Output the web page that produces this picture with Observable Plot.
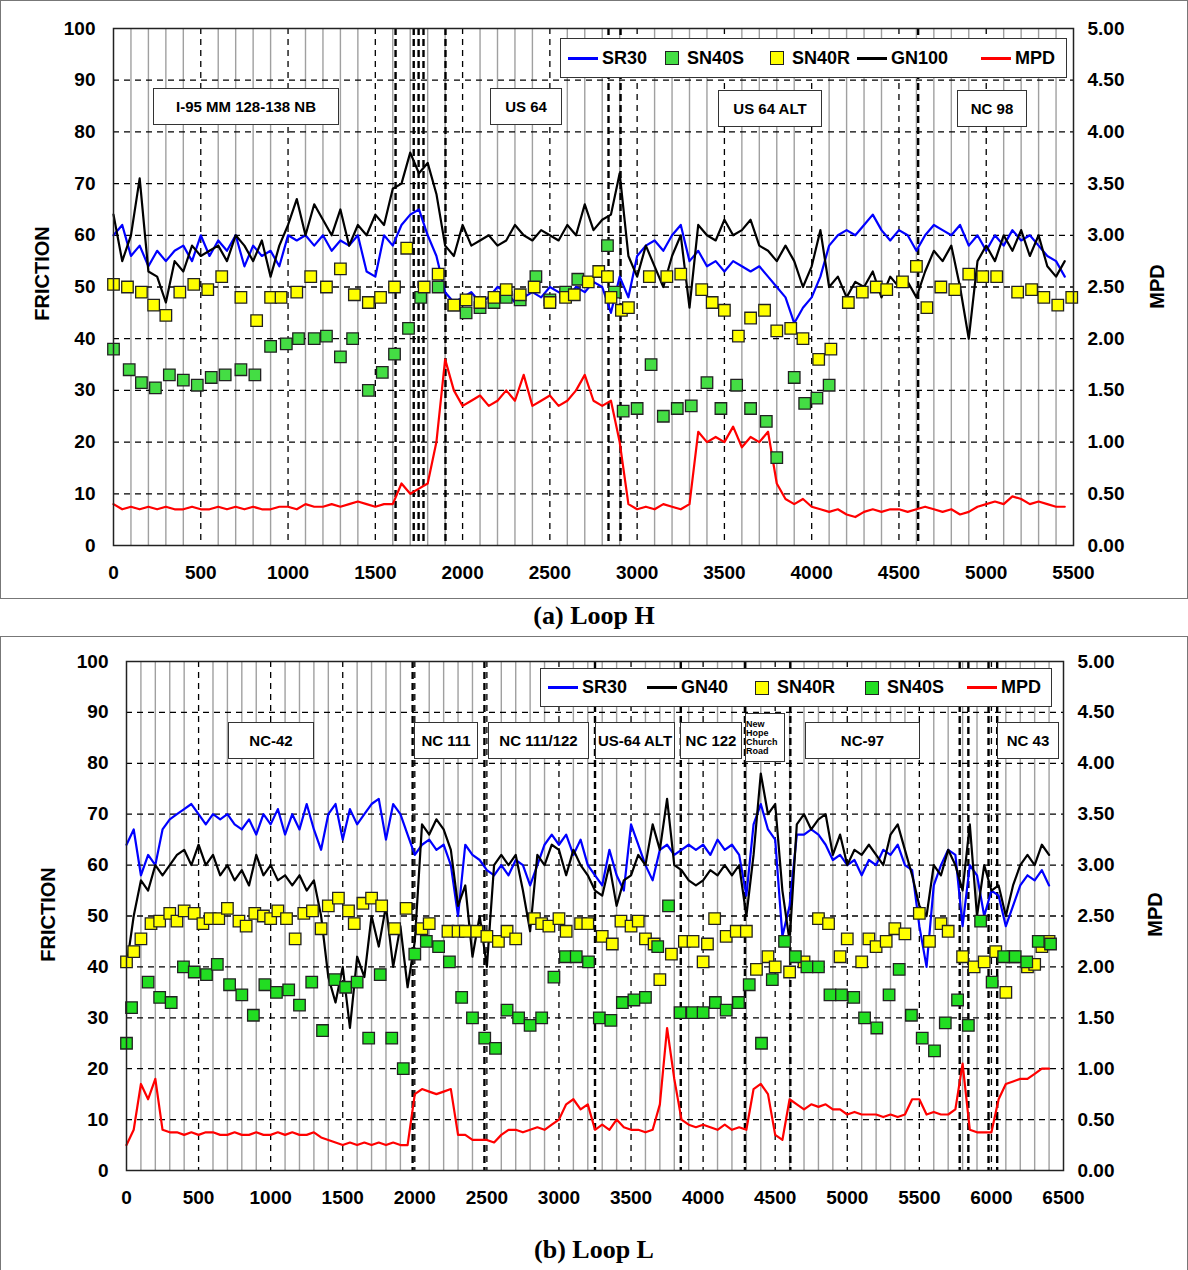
<!DOCTYPE html>
<html><head><meta charset="utf-8">
<script src="https://cdn.jsdelivr.net/npm/d3@7"></script>
<script src="https://cdn.jsdelivr.net/npm/@observablehq/plot@0.6"></script>
<style>
body{margin:0;background:#fff;font-family:"Liberation Sans",Arial,sans-serif;}
#wrap{position:relative;width:1188px;height:1270px;}
.panel{position:absolute;left:0;width:1186px;border:1px solid #777;}
.lab{position:absolute;border:1.5px solid #333;background:#fff;font-weight:bold;font-size:15px;display:flex;align-items:center;justify-content:center;font-family:"Liberation Sans Narrow","Liberation Sans",Arial;}
.leg{position:absolute;border:1.5px solid #333;background:#fff;font-weight:bold;font-size:18px;}
.it{position:absolute;top:0;height:100%;display:flex;align-items:center;}
.ln{display:inline-block;width:30px;height:3px;margin-right:4px;}
.sq{display:inline-block;width:12px;height:12px;border:1.5px solid #222;margin:0 8px 0 4px;}
.cap{position:absolute;left:0;width:1188px;text-align:center;font-family:"Liberation Serif",serif;font-weight:bold;font-size:26px;}
.yl{position:absolute;font-weight:bold;font-size:20px;transform:rotate(-90deg);transform-origin:center;white-space:nowrap;}
</style></head><body><div id="wrap"></div>
<script>
// ---------- Loop H data ----------
const stepH = 50;
const hSR30 = [60,62,56,58,54,57,55,57,58,55,60,56,59,57,60,54,58,56,57,54,60,59,60,58,60,57,59,58,60,53,52,60,58,62,64,65,60,56,49,47,48,49,47,48,50,49,47,48,49,48,50,49,48,50,49,51,50,45,52,48,56,58,59,57,60,62,55,57,54,55,53,55,54,53,54,52,50,48,43,46,48,52,58,60,61,60,62,64,61,59,61,60,57,60,62,61,60,62,58,60,57,60,58,61,59,60,58,56,55,52];
const hGN100 = [64,55,60,71,53,52,47,55,53,58,56,57,58,55,60,58,55,59,52,58,62,67,60,66,63,60,65,58,62,60,64,62,69,70,76,72,74,68,58,56,62,58,59,60,58,59,62,60,59,61,60,59,62,60,66,61,63,64,72,56,52,58,54,50,56,60,46,62,60,59,63,60,61,63,58,57,55,58,55,50,54,61,50,52,48,51,50,53,48,52,50,51,48,53,57,55,58,50,40,55,58,55,60,57,61,56,60,54,52,55];
const hMPD = [8,7,7.5,7,7.5,7,7.5,7,7,7.5,7,7,7.5,7,7.5,7,7.5,7,7,7.5,7.5,7,8,7.5,7.5,8,7.5,8,8.5,8,7.5,8,8,12,10,11,12,20,36,30,27,28,29,27,28,30,28,33,27,28,29,27,28,30,33,28,27,28,20,8,7,7.5,7,8,7.5,7,8,22,20,21,20,23,19,21,20,22,12,9,8,9,7.5,7,6.5,7,6,5.5,6.5,7,6.5,7,7,6.5,7,7.5,7,6.5,7,6,6.5,7.5,8,8.5,8,9.5,9,8,8.5,8,7.5,7.5];
const hSN40Rx = [0,80,160,230,300,380,460,540,620,730,820,900,960,1050,1130,1220,1300,1380,1460,1530,1610,1680,1780,1860,1950,2020,2100,2180,2250,2330,2410,2500,2590,2640,2720,2780,2830,2850,2910,2950,3070,3170,3250,3370,3430,3500,3580,3650,3730,3800,3880,3950,4040,4110,4210,4290,4370,4430,4520,4600,4660,4740,4820,4900,4980,5060,5180,5260,5330,5410,5490];
const hSN40R  = [50.5,50,49,46.5,44.5,49,50.5,49.5,52,48,43.5,48,48,49,52,50,53.5,48.5,47,48,50,57.5,50,52.5,46.5,47.5,47,48,49.5,48.5,50,47,48,48.5,51,53,52,48,45.5,46,52,52,52.5,49.5,47,45.5,40.5,44,45.5,41.5,42,40,36,38,47,49,50,49.5,51,54,46,50,49.5,52.5,52,52,49,49.5,48,46.5,48];
const hSN40Sx = [0,90,160,240,320,400,480,560,640,730,810,900,990,1060,1150,1220,1300,1370,1460,1540,1610,1690,1760,1860,1950,2020,2100,2180,2250,2330,2420,2500,2590,2660,2830,2870,2920,3000,3080,3150,3230,3310,3400,3480,3570,3650,3740,3800,3900,3960,4030,4100];
const hSN40S  = [38,34,31.5,30.5,33,32,31,32.5,33,34,33,38.5,39,40,40,40.5,36.5,40,30,33.5,37,42,48,50,46.5,45,46,47,48,47.5,52,47.5,49,51.5,58,49,26,26.5,35,25,26.5,27,31.5,26.5,31,26.5,24,17,32.5,27.5,28.5,31];
const hBounds = [1616,1720,1748,1776,1902,2836,2905,4610];

// ---------- Loop L data ----------
const stepL = 50;
const lSR30 = [64,67,58,62,60,67,69,70,71,72,70,68,70,69,70,68,67,69,66,70,68,71,66,70,67,72,67,63,70,72,65,71,68,70,72,73,65,72,70,66,62,64,65,63,64,60,50,64,62,61,59,58,60,58,61,60,56,60,64,66,64,66,62,65,60,58,56,63,58,55,68,64,60,57,63,64,62,63,64,63,64,62,65,63,64,62,54,68,72,67,65,46,52,66,66,67,66,64,61,62,60,61,58,61,60,63,62,64,60,59,48,40,56,60,63,62,48,60,58,50,55,54,48,52,56,58,57,59,56];
const lGN40 = [40,50,57,55,60,58,60,62,63,60,64,60,62,58,60,57,59,56,62,58,60,57,58,56,58,55,57,50,38,33,40,28,42,38,50,44,52,40,48,36,45,68,66,69,67,63,52,56,42,50,40,60,62,60,62,55,47,62,60,64,63,58,63,60,58,55,54,60,52,57,58,62,60,68,63,73,60,59,57,56,57,59,58,60,58,60,50,62,78,70,72,55,45,68,70,67,69,70,62,66,60,63,62,64,62,60,66,68,63,58,52,50,60,58,63,60,55,68,50,60,55,56,50,56,60,62,60,64,62];
const lMPD = [5,8,17,14,18,8,7.5,7.5,7,7.5,7,7.5,7.5,7,7,7.5,7,7,7.5,7,7,7.5,7,7.5,7,7,7.5,6.5,6,5.5,5,5.5,5,5.5,5,5.5,5,5.5,5,5,15,16,15.5,15,15.5,16,7,7,6,6,6,5.5,7,8,8,7.5,8,8.5,8,9,10,13,14,12,13,8,9,8,10,8.5,8,8,7.5,8,13,28,18,10,9,8.5,9,8.5,8,9,8,8.5,8,16,17,15,7,6,14,13,12,13,12.5,13,12,12,11,11.5,11,11,11,10.5,11,10.5,11,14,14,11,11.5,11,11,12,21,8,7.5,7.5,7.5,14,17,17.5,18,18,19,20,20];
const lSN40Rx = [0,50,100,170,230,300,350,400,470,530,580,640,700,780,830,890,950,1000,1050,1110,1170,1230,1290,1350,1400,1470,1540,1580,1640,1700,1770,1860,1940,2050,2100,2230,2300,2350,2430,2500,2580,2640,2700,2830,2880,2930,3000,3050,3150,3200,3300,3370,3430,3500,3550,3600,3660,3700,3780,3870,3930,4000,4030,4080,4160,4230,4300,4370,4450,4500,4600,4700,4800,4870,4950,5000,5100,5150,5200,5270,5330,5400,5500,5570,5650,5700,5800,5880,5950,6030,6100,6150,6250,6300,6350,6400];
const lSN40R  = [41,43,45.5,48.5,49,50.5,49,51,50.5,48.5,49.5,49.5,51.5,49,48,50.5,50,49.5,51,49.5,45.5,50.5,51,47.5,52,53.5,51,48.5,52.5,53.5,52,47.5,51.5,47.5,48.5,47,47,47,47,46,45,47,45.5,49.5,48.5,48,49.5,47,48.5,48.5,46,44.5,49,48,49,45.5,44.5,37.5,42.5,45,45,41,44.5,49.5,46,47,47,39.5,42,40,39,41,49.5,48.5,42,45.5,41,45.5,44,45,47.5,46.5,50.5,45,48.5,47,42,40,41,43,35,42,40,40.5,44,45];
const lSN40Sx = [0,35,150,230,310,395,470,555,630,715,800,880,960,1040,1125,1200,1285,1360,1445,1520,1600,1680,1760,1840,1920,2000,2080,2165,2240,2325,2400,2485,2560,2640,2720,2800,2880,2965,3045,3120,3205,3280,3360,3440,3520,3600,3685,3760,3840,3925,4000,4085,4160,4245,4320,4405,4480,4565,4640,4720,4800,4880,4960,5045,5120,5205,5290,5360,5445,5520,5605,5680,5765,5840,5925,6005,6085,6165,6245,6325,6410];
const lSN40S  = [25,32,37,34,33,40,39,38.5,40.5,36.5,34.5,30.5,36.5,35,35.5,32.5,37,27.5,37.5,36,37,26,38.5,26,20,42.5,45,44,41,34,30,26,24,31.5,30,28.5,30,38,42,42,41,30,29.5,33,33.5,34,44,52,31,31,31,33,31.5,33,36.5,25,37.5,45,42,40,40,34.5,34.5,34,30,28,34.5,39.5,30.5,26,23.5,29,33.5,28.5,49,37,42,42,41,45,44.5];
const lBounds = [1985,2483,3250,3845,4290,4605,5780,5840,5980,6040];

const FONT = "Liberation Sans, Arial, sans-serif";
function series(vals, step){ return vals.map((v,i)=>({x:i*step, y:v})); }
function pts(xs, ys){ return xs.map((x,i)=>({x, y:ys[i]})); }

function panel(o){
  const dash = {stroke:"#000", strokeDasharray:"6,5", strokeWidth:1.3};
  return Plot.plot({
    width:1188, height:o.h,
    marginLeft:o.ml, marginRight:o.mr, marginTop:o.mt, marginBottom:o.mb,
    style:{fontFamily:FONT, fontWeight:"bold", fontSize:"19px", background:"transparent"},
    x:{domain:[0,o.xmax]},
    y:{domain:[0,100]},
    marks:[
      Plot.ruleX(d3.range(100,o.xmax,100).filter(d=>d%500!==0),{stroke:"#a0a0a0",strokeWidth:1.4}),
      Plot.ruleX(d3.range(500,o.xmax,500),dash),
      Plot.ruleY(d3.range(10,100,10),dash),
      Plot.ruleX(o.bounds,{stroke:"#000",strokeDasharray:"7,4",strokeWidth:2.4}),
      Plot.line(o.sr,{x:"x",y:"y",stroke:"#0000ff",strokeWidth:2.2}),
      Plot.line(o.gn,{x:"x",y:"y",stroke:"#000",strokeWidth:2.2}),
      Plot.line(o.mpd,{x:"x",y:"y",stroke:"#ff0000",strokeWidth:2.2}),
      ...o.dots.map(d=>Plot.dot(d.data,{x:"x",y:"y",symbol:"square",r:6.5,fill:d.fill,stroke:"#222",strokeWidth:1.3})),
      Plot.frame({stroke:"#222",strokeWidth:1.5}),
      Plot.axisX({ticks:d3.range(0,o.xmax+1,500),tickSize:0,tickPadding:20,tickFormat:d=>String(d),label:null}),
      Plot.axisY({anchor:"left",ticks:d3.range(0,101,10),tickSize:0,tickPadding:18,tickFormat:d=>String(d),label:null}),
      Plot.axisY({anchor:"right",ticks:d3.range(0,101,10),tickSize:0,tickPadding:14,tickFormat:d=>(d/20).toFixed(2),label:null})
    ]
  });
}

const wrap = document.getElementById("wrap");
function add(html){ const d=document.createElement("div"); d.innerHTML=html; while(d.firstChild) wrap.appendChild(d.firstChild); }

// Panel H
add('<div class="panel" style="top:0;height:597px;"></div>');
const p1 = panel({h:598,ml:113,mr:115,mt:28,mb:53,xmax:5500,bounds:hBounds,
  sr:series(hSR30,stepH),gn:series(hGN100,stepH),mpd:series(hMPD,stepH),
  dots:[{data:pts(hSN40Sx,hSN40S),fill:"#44dd44"},{data:pts(hSN40Rx,hSN40R),fill:"#ffff00"}]});
p1.style.position="absolute"; p1.style.top="0"; p1.style.left="0";
wrap.appendChild(p1);
add('<div class="cap" style="top:601px;">(a) Loop H</div>');

// Panel L
add('<div class="panel" style="top:636px;height:633px;"></div>');
const p2 = panel({h:600,ml:126,mr:125,mt:25,mb:66,xmax:6500,bounds:lBounds,
  sr:series(lSR30,stepL),gn:series(lGN40,stepL),mpd:series(lMPD,stepL),
  dots:[{data:pts(lSN40Rx,lSN40R),fill:"#ffff00"},{data:pts(lSN40Sx,lSN40S),fill:"#22dd22"}]});
p2.style.position="absolute"; p2.style.top="636px"; p2.style.left="0";
wrap.appendChild(p2);
add('<div class="cap" style="top:1235px;">(b) Loop L</div>');

// axis titles
add('<div class="yl" style="left:-8px;top:262px;width:100px;text-align:center;">FRICTION</div>');
add('<div class="yl" style="left:1127px;top:275px;width:60px;text-align:center;">MPD</div>');
add('<div class="yl" style="left:-2px;top:903px;width:100px;text-align:center;">FRICTION</div>');
add('<div class="yl" style="left:1125px;top:903px;width:60px;text-align:center;">MPD</div>');

// legends
function item(x, kind, color, text){
  const sym = kind==="line" ? `<span class="ln" style="background:${color}"></span>` : `<span class="sq" style="background:${color}"></span>`;
  return `<div class="it" style="left:${x}px">${sym}${text}</div>`;
}
add(`<div class="leg" style="left:560px;top:38px;width:505px;height:38px;">`+
  item(7,"line","#0000ff","SR30")+item(100,"sq","#44dd44","SN40S")+item(205,"sq","#ffff00","SN40R")+
  item(296,"line","#000","GN100")+item(420,"line","#ff0000","MPD")+`</div>`);
add(`<div class="leg" style="left:540px;top:668px;width:510px;height:37px;">`+
  item(7,"line","#0000ff","SR30")+item(106,"line","#000","GN40")+item(210,"sq","#ffff00","SN40R")+
  item(320,"sq","#22dd22","SN40S")+item(426,"line","#ff0000","MPD")+`</div>`);

// section labels
function lab(x,y,w,h,t,fs){ add(`<div class="lab" style="left:${x}px;top:${y}px;width:${w}px;height:${h}px;${fs?`font-size:${fs}px;line-height:1;text-align:left;justify-content:flex-start;`:''}">${t}</div>`); }
lab(153,88,184,35,"I-95 MM 128-138 NB");
lab(490,88,70,35,"US 64");
lab(718,90,102,35,"US 64 ALT");
lab(957,90,68,35,"NC 98");
lab(228,722,84,35,"NC-42");
lab(414,722,62,35,"NC 111");
lab(488,722,99,35,"NC 111/122");
lab(595,722,78,35,"US-64 ALT");
lab(680,722,60,35,"NC 122");
lab(745,713,38,47,"New Hope Church Road",9);
lab(805,722,113,35,"NC-97");
lab(997,722,60,35,"NC 43");
</script></body></html>
